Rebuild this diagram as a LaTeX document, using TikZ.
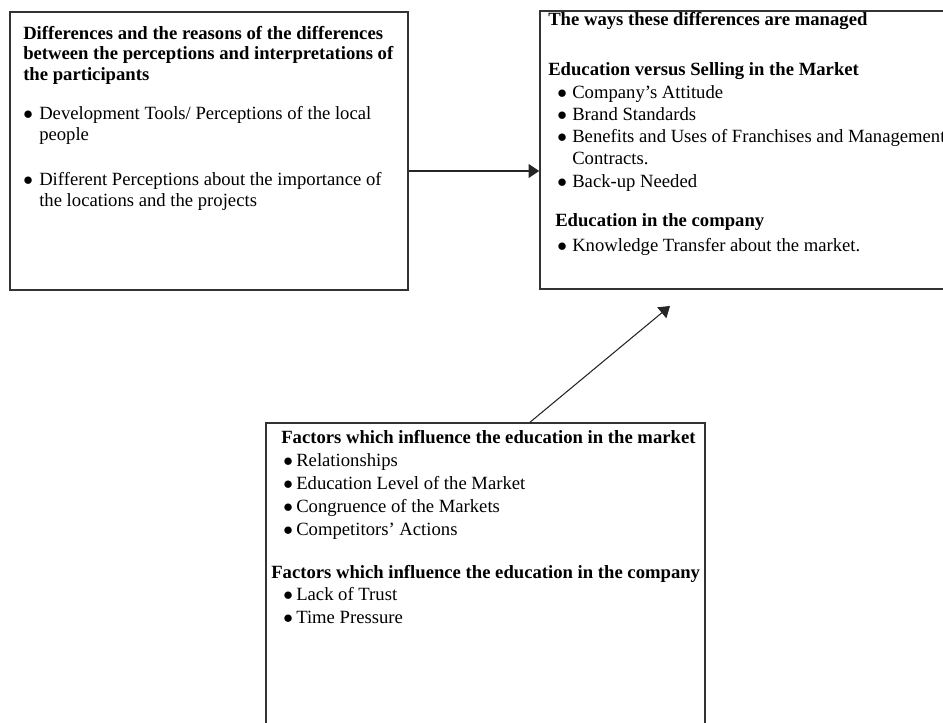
\documentclass[tikz,border=0pt]{standalone}
\usepackage{fontspec}
\setmainfont{Liberation Serif}
\usetikzlibrary{positioning, fit, arrows.meta}

\newcommand{\bul}[1]{\makebox[#1][l]{$\bullet$}}

\begin{document}
\begin{tikzpicture}[
    x=0.75pt, y=-0.75pt,
    box/.style={draw=black!80, line width=1.2pt, inner sep=0pt},
    txt/.style={anchor=north west, inner sep=0pt, align=left},
    arw/.style={-{Triangle[length=8pt, width=10.5pt]}, line width=0.8pt, black!85},
]
\useasboundingbox (0,0) rectangle (943,723);

% --- Boxes ---
\node[box, fit={(10,12) (408,290)}] (diff) {};
\node[box, fit={(540,11) (965,289)}] (ways) {};
\node[box, fit={(266,423) (705,760)}] (factors) {};

% --- Left box text ---
\node[txt, font=\fontsize{14pt}{15.4pt}\selectfont] (diff_txt) at (23,26)
    {\textbf{Differences and the reasons of the differences}\\
     \textbf{between the perceptions and interpretations of}\\
     \textbf{the participants}\\[13.9pt]
     \bul{12pt}Development Tools/ Perceptions of the local\\
     \hspace*{12pt}people\\[18.75pt]
     \bul{12pt}Different Perceptions about the importance of\\
     \hspace*{12pt}the locations and the projects};

% --- Right box text ---
\node[txt, font=\fontsize{14pt}{16.7pt}\selectfont] (ways_txt) at (548,12.5)
    {\textbf{The ways these differences are managed}\\[20.8pt]
     \textbf{Education versus Selling in the Market}\\
     \hspace*{6.75pt}\bul{11.25pt}Company's Attitude\\
     \hspace*{6.75pt}\bul{11.25pt}Brand Standards\\
     \hspace*{6.75pt}\bul{11.25pt}Benefits and Uses of Franchises and Management\\
     \hspace*{18pt}Contracts.\\
     \hspace*{6.75pt}\bul{11.25pt}Back-up Needed\\[13.1pt]
     \hspace*{5.25pt}\textbf{Education in the company}\\[1.9pt]
     \hspace*{6.75pt}\bul{11.25pt}Knowledge Transfer about the market.};

% --- Bottom box text ---
\node[txt, font=\fontsize{14pt}{17.25pt}\selectfont] (factors_txt) at (271,430)
    {\hspace*{7.5pt}\textbf{Factors which influence the education in the market}\\
     \hspace*{9pt}\bul{9.75pt}Relationships\\
     \hspace*{9pt}\bul{9.75pt}Education Level of the Market\\
     \hspace*{9pt}\bul{9.75pt}Congruence of the Markets\\
     \hspace*{9pt}\bul{9.75pt}Competitors' Actions\\[15pt]
     \textbf{Factors which influence the education in the company}\\[-0.8pt]
     \hspace*{9pt}\bul{9.75pt}Lack of Trust\\
     \hspace*{9pt}\bul{9.75pt}Time Pressure};

% --- Arrows ---
\coordinate (tip) at (670,306);
\draw[arw] ([yshift=-15pt]diff.east) -- ([yshift=-15pt]diff.east -| ways.west);
\draw[arw] ([xshift=33.4pt]factors.north) -- (tip);
\end{tikzpicture}
\end{document}
